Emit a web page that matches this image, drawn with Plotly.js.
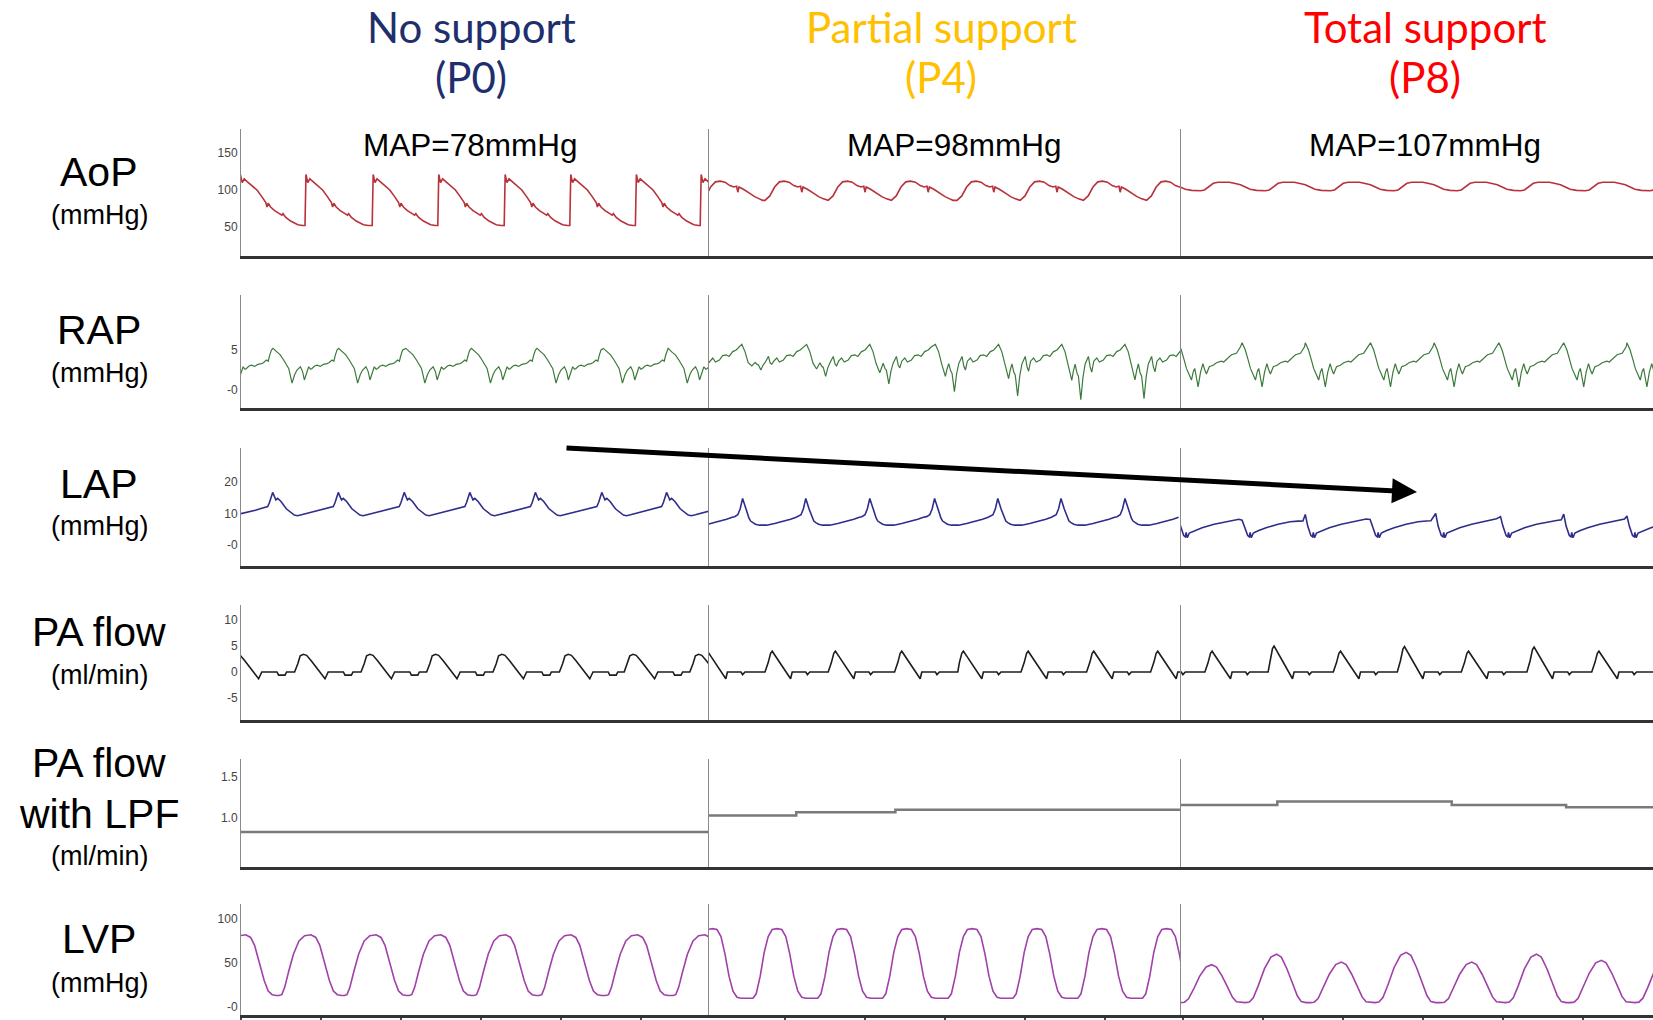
<!DOCTYPE html>
<html>
<head>
<meta charset="utf-8">
<script src="https://cdn.plot.ly/plotly-3.0.1.min.js"></script>
<style>
  html, body { margin: 0; padding: 0; background: #fff; }
  #chart { width: 1653px; height: 1020px; }
</style>
</head>
<body>
<div id="chart"></div>
<script>
// ---------------------------------------------------------------------------
// Labels
// ---------------------------------------------------------------------------
const conditions = ['No support', 'Partial support', 'Total support'];
const conditionCodes = ['(P0)', '(P4)', '(P8)'];
const mapLabels = ['MAP=78mmHg', 'MAP=98mmHg', 'MAP=107mmHg'];
const channelNames = [['AoP'], ['RAP'], ['LAP'], ['PA flow'], ['PA flow', 'with LPF'], ['LVP']];
const channelUnits = ['(mmHg)', '(mmHg)', '(mmHg)', '(ml/min)', '(ml/min)', '(mmHg)'];

const tickValues = [[50, 100, 150], [0, 5], [0, 10, 20], [-5, 0, 5, 10], [1.0, 1.5], [0, 50, 100]];
const tickLabels = [['50', '100', '150'], ['-0', '5'], ['-0', '10', '20'], ['-5', '0', '5', '10'], ['1.0', '1.5'], ['-0', '50', '100']];

// ---------------------------------------------------------------------------
// Recorded waveforms. Time in seconds from the start of each recording.
// Each channel: beat reference times + one beat outline [time in beat, value].
// ---------------------------------------------------------------------------

// Aortic pressure (mmHg) - reference = start of upstroke / start of rise
const aopBeatsP0 = [-0.02, 0.80, 1.64, 2.46, 3.29, 4.11, 4.93, 5.74];
const aopShapeP0 = [[0, 52], [0.012, 121], [0.035, 110], [0.06, 115], [0.1, 111], [0.16, 106], [0.22, 100],
  [0.28, 91], [0.33, 83], [0.345, 77], [0.36, 82], [0.39, 77], [0.44, 72], [0.5, 68], [0.53, 66], [0.545, 68],
  [0.58, 63], [0.64, 58], [0.7, 54], [0.73, 53], [0.79, 52]];
const aopBeatsP4 = [-0.10, 0.70, 1.49, 2.28, 3.10, 3.89, 4.68, 5.47];
const aopShapeP4 = [[0, 86], [0.06, 92], [0.12, 104], [0.18, 111], [0.24, 112], [0.3, 110.5], [0.36, 106],
  [0.41, 104], [0.445, 105], [0.46, 97], [0.475, 104], [0.53, 101], [0.6, 96], [0.67, 91], [0.73, 88], [0.77, 86]];
const aopBeatsP8 = [-0.56, 0.25, 1.06, 1.875, 2.67, 3.46, 4.25, 5.06, 5.87];
const aopShapeP8 = [[0, 99], [0.05, 100], [0.1, 104], [0.16, 109], [0.22, 110.5], [0.3, 110], [0.36, 110.5],
  [0.42, 109], [0.5, 107], [0.56, 104], [0.62, 101], [0.7, 99.5], [0.76, 99]];

// Right atrial pressure (mmHg) - reference = beat peak
const rapBeatsP0 = [-0.42, 0.40, 1.22, 2.06, 2.88, 3.70, 4.53, 5.34];
const rapShapeP0 = [[0, 5.2], [0.05, 4.7], [0.09, 4.4], [0.133, 3.75], [0.17, 3.2], [0.196, 2.7], [0.215, 1.9],
  [0.238, 0.85], [0.27, 1.9], [0.3, 2.5], [0.342, 2.9], [0.37, 2.3], [0.392, 1.25], [0.42, 2.2], [0.446, 2.9],
  [0.47, 2.6], [0.488, 2.7], [0.52, 3.0], [0.55, 3.1], [0.59, 2.95], [0.63, 3.2], [0.675, 3.3], [0.7, 3.4],
  [0.738, 3.75], [0.76, 3.6], [0.78, 4.4], [0.8, 5.0]];
const rapBeatsP4 = [-0.39, 0.41, 1.22, 2.01, 2.83, 3.62, 4.41, 5.20];
const rapShapeP4 = [[0, 5.7], [0.04, 4.8], [0.08, 3.2], [0.125, 1.7], [0.145, 2.6], [0.167, 3.3], [0.19, 2.4],
  [0.208, 2.1], [0.238, -0.2], [0.265, 2.0], [0.292, 3.3], [0.333, 4.2], [0.355, 3.0], [0.375, 2.5], [0.4, 3.6],
  [0.437, 4.0], [0.47, 3.5], [0.52, 3.75], [0.56, 4.3], [0.604, 4.4], [0.64, 4.2], [0.687, 4.8], [0.73, 5.0], [0.77, 5.4]];
const rapDipsP4 = [2.6, 2.5, 1.7, 0.75, -0.2, -0.75, -1.2, -1.1];
const rapBeatsP8 = [-0.03, 0.77, 1.56, 2.375, 3.17, 3.98, 4.79, 5.58];
const rapShapeP8 = [[0, 5.9], [0.04, 5.0], [0.08, 3.6], [0.104, 2.7], [0.135, 2.0], [0.167, 1.25], [0.19, 2.3],
  [0.208, 2.7], [0.23, 1.5], [0.25, 0.4], [0.28, 2.2], [0.31, 3.3], [0.33, 2.6], [0.354, 2.0], [0.39, 2.9],
  [0.4375, 3.1], [0.48, 3.4], [0.54, 3.6], [0.57, 3.5], [0.6, 3.75], [0.667, 4.4], [0.73, 4.6], [0.78, 5.4]];

// Left atrial pressure (mmHg) - reference = beat peak
const lapBeatsP0 = [-0.42, 0.396, 1.216, 2.04, 2.86, 3.68, 4.51, 5.32];
const lapShapeP0 = [[-0.0625, 12.2], [-0.04, 13.5], [0, 16.7], [0.04, 14.3], [0.0625, 14.8], [0.104, 13.8],
  [0.17, 11.5], [0.27, 9.5], [0.31, 9.3], [0.36, 9.6], [0.42, 10.0], [0.48, 10.2], [0.54, 10.6], [0.6, 11.0],
  [0.67, 11.6], [0.72, 12.0]];
const lapBeatsP4 = [-0.38, 0.42, 1.21, 2.01, 2.82, 3.61, 4.40, 5.20];
const lapShapeP4 = [[-0.1, 9.0], [-0.06, 9.6], [-0.03, 11.5], [0, 14.8], [0.04, 11.5], [0.08, 8.5], [0.1, 7.6],
  [0.125, 7.1], [0.16, 6.6], [0.21, 6.3], [0.3, 6.3], [0.4, 6.8], [0.5, 7.4], [0.6, 8.2], [0.67, 8.8]];
const lapBeatsP8 = [-0.03, 0.77, 1.56, 2.37, 3.19, 4.0, 4.79, 5.58];
const lapShapeP8 = [[0, 9.0], [0.03, 6.0], [0.07, 3.0], [0.09, 2.6], [0.1, 4.0], [0.115, 2.3], [0.14, 3.8],
  [0.2, 4.5], [0.3, 5.5], [0.45, 6.6], [0.6, 7.4], [0.7, 7.8], [0.76, 8.0]];
const lapTopsP8 = [9.5, 7.9, 9.7, 8.1, 10.0, 9.0, 9.8, 9.2];

// Pulmonary artery flow - reference = beat peak
const paBeatsP0 = [-0.05, 0.78, 1.61, 2.43, 3.26, 4.09, 4.90, 5.72];
const paShapeP0 = [[-0.11, 0], [-0.07, 1.6], [-0.04, 3.1], [0, 3.4], [0.04, 3.2], [0.1, 2.1], [0.17, 0.8],
  [0.22, -0.3], [0.27, -1.3], [0.29, -0.6], [0.31, 0], [0.5, 0], [0.52, -0.6], [0.6, -0.6], [0.62, 0], [0.7, 0]];
const paBeatsP4 = [-0.02, 0.79, 1.58, 2.41, 3.18, 3.99, 4.81, 5.61];
const paShapeP4 = [[-0.09, 0], [-0.05, 1.8], [-0.02, 3.6], [0, 4.0], [0.04, 3.1], [0.09, 1.9], [0.15, 0.6],
  [0.2, -0.6], [0.23, -1.3], [0.25, 0], [0.42, 0], [0.44, -0.5], [0.47, 0], [0.7, 0]];
const paBeatsP8 = [-0.41, 0.395, 1.17, 2.0, 2.8, 3.6, 4.42, 5.23];
const paShapeP8 = [[-0.09, 0], [-0.05, 1.8], [-0.02, 3.6], [0, 4.0], [0.04, 3.1], [0.09, 1.9], [0.15, 0.6],
  [0.2, -0.6], [0.23, -1.3], [0.25, 0], [0.42, 0], [0.44, -0.5], [0.47, 0], [0.7, 0]];
const paPeaksP8 = [4.0, 4.0, 5.0, 4.0, 4.9, 4.0, 4.8, 4.0];

// Low-pass filtered PA flow: level changes (time, value)
const lpfTimesP0 = [0, 5.95];
const lpfLevelsP0 = [0.83, 0.83];
const lpfTimesP4 = [0, 1.09, 2.33, 5.95];
const lpfLevelsP4 = [1.03, 1.07, 1.10, 1.10];
const lpfTimesP8 = [0, 1.21, 3.39, 4.82, 5.95];
const lpfLevelsP8 = [1.16, 1.20, 1.16, 1.13, 1.13];

// Left ventricular pressure (mmHg) - reference = end-diastolic trough
const lvpBeatsP0 = [-0.34, 0.475, 1.29, 2.10, 2.91, 3.725, 4.56, 5.40];
const lvpShapeP0 = [[0, 13], [0.035, 14], [0.07, 22], [0.12, 40], [0.18, 60], [0.25, 75], [0.32, 81], [0.4, 82],
  [0.46, 79], [0.51, 70], [0.57, 50], [0.63, 30], [0.68, 18], [0.73, 14], [0.78, 13]];
const lvpBeatsP4 = [-0.32, 0.49, 1.30, 2.11, 2.93, 3.74, 4.55, 5.36];
const lvpShapeP4 = [[0, 10], [0.06, 10], [0.1, 15], [0.15, 35], [0.2, 62], [0.25, 80], [0.3, 88], [0.36, 89],
  [0.42, 88], [0.47, 80], [0.52, 60], [0.57, 35], [0.62, 18], [0.67, 11], [0.72, 10]];
const lvpBeatsP8 = [-0.81, 0.0, 0.81, 1.62, 2.43, 3.25, 4.06, 4.87, 5.68];
const lvpShapeP8 = [[0, 5], [0.05, 5.5], [0.1, 10], [0.16, 22], [0.24, 40], [0.32, 52], [0.39, 55], [0.45, 52],
  [0.52, 40], [0.59, 25], [0.65, 12], [0.7, 6], [0.76, 5]];
const lvpPeaksP8 = [50, 48, 60, 51, 62, 51, 60, 53, 55];

// ---------------------------------------------------------------------------
// Build a polyline from beat times and one beat outline
// ---------------------------------------------------------------------------
function buildBeats(onsets, shape, mod) {
  const vals = shape.map(p => p[1]);
  const hi = Math.max(...vals), lo = Math.min(...vals);
  const x = [], y = [];
  onsets.forEach((t0, i) => {
    shape.forEach(([ph, v]) => {
      const t = t0 + ph;
      if (x.length && t <= x[x.length - 1]) return;
      let val = v;
      if (mod && mod.peaks && v > mod.base) val = mod.base + (v - mod.base) * (mod.peaks[i] - mod.base) / (hi - mod.base);
      if (mod && mod.dips && v < mod.base) val = mod.base - (mod.base - v) * (mod.base - mod.dips[i]) / (mod.base - lo);
      x.push(+t.toFixed(4));
      y.push(+val.toFixed(3));
    });
  });
  return { x, y };
}

const series = [
  [buildBeats(aopBeatsP0, aopShapeP0), buildBeats(aopBeatsP4, aopShapeP4), buildBeats(aopBeatsP8, aopShapeP8)],
  [buildBeats(rapBeatsP0, rapShapeP0), buildBeats(rapBeatsP4, rapShapeP4, { base: 3.5, dips: rapDipsP4 }), buildBeats(rapBeatsP8, rapShapeP8)],
  [buildBeats(lapBeatsP0, lapShapeP0), buildBeats(lapBeatsP4, lapShapeP4), buildBeats(lapBeatsP8, lapShapeP8, { base: 7.5, peaks: lapTopsP8 })],
  [buildBeats(paBeatsP0, paShapeP0), buildBeats(paBeatsP4, paShapeP4), buildBeats(paBeatsP8, paShapeP8, { base: 0, peaks: paPeaksP8 })],
  [{ x: lpfTimesP0, y: lpfLevelsP0 }, { x: lpfTimesP4, y: lpfLevelsP4 }, { x: lpfTimesP8, y: lpfLevelsP8 }],
  [buildBeats(lvpBeatsP0, lvpShapeP0), buildBeats(lvpBeatsP4, lvpShapeP4), buildBeats(lvpBeatsP8, lvpShapeP8, { base: 5, peaks: lvpPeaksP8 })]
];

// ---------------------------------------------------------------------------
// Geometry and styling
// ---------------------------------------------------------------------------
const W = 1653, H = 1020;
const px = v => v / W;
const py = v => 1 - v / H;

const colEdges = [241, 709, 1180.5, 1653];
const timeSpan = [5.85, 5.894, 5.906];
const tickStart = [0, -0.05, 0.03];
const rowBands = [[129, 256], [295, 408], [448, 566], [605, 720], [759, 867], [904, 1015]];
const yRanges = [[10.8, 182.4], [-2.25, 11.875], [-6.67, 30.8], [-9.23, 12.88], [0.402, 1.72], [-9.1, 117]];
const lineColors = ['#B8323A', '#3C7A3C', '#2E2E8A', '#1E1E1E', '#7A7A7A', '#A040A8'];
const lineWidths = [1.6, 1.2, 1.6, 1.6, 2.5, 1.6];
const titleColors = ['#1F2F6E', '#FFC000', '#FF0000'];
const titleFont = 'Lato, Noto Sans, sans-serif';

const traces = [];
const layout = {
  width: W, height: H,
  margin: { l: 0, r: 0, t: 0, b: 0 },
  paper_bgcolor: '#fff', plot_bgcolor: 'rgba(0,0,0,0)',
  showlegend: false,
  font: { family: 'Liberation Sans, Arial, sans-serif', color: '#000' },
  annotations: []
};

for (let r = 0; r < 6; r++) {
  for (let c = 0; c < 3; c++) {
    const k = r * 3 + c + 1;
    const xName = k === 1 ? 'x' : 'x' + k;
    const yName = k === 1 ? 'y' : 'y' + k;
    const s = series[r][c];
    traces.push({
      type: 'scatter', mode: 'lines',
      x: s.x, y: s.y, xaxis: xName, yaxis: yName,
      line: { color: lineColors[r], width: lineWidths[r], shape: r === 4 ? 'hv' : 'linear' },
      hoverinfo: 'skip'
    });
    const bottom = r === 5;
    layout[k === 1 ? 'xaxis' : 'xaxis' + k] = {
      domain: [px(colEdges[c]), px(colEdges[c + 1])],
      anchor: yName, range: [0, timeSpan[c]],
      showline: true, linecolor: '#333', linewidth: 3,
      showgrid: false, zeroline: false, showticklabels: false,
      ticks: bottom ? 'outside' : '', ticklen: 6, tickwidth: 1.5, tickcolor: '#444',
      tick0: tickStart[c], dtick: 1, fixedrange: true
    };
    layout[k === 1 ? 'yaxis' : 'yaxis' + k] = {
      domain: [py(rowBands[r][1]), py(rowBands[r][0])],
      anchor: xName, range: yRanges[r],
      showline: true, linecolor: '#8a8a8a', linewidth: 1,
      showgrid: false, zeroline: false, ticks: '',
      tickmode: 'array', tickvals: tickValues[r], ticktext: tickLabels[r],
      showticklabels: c === 0,
      tickfont: { family: 'Liberation Sans Narrow, Arial Narrow, sans-serif', size: 12, color: '#444' },
      fixedrange: true
    };
  }
}

// Condition headings (two lines each)
const headingX = [471, 941, 1425];
conditions.forEach((name, i) => {
  layout.annotations.push({
    xref: 'paper', yref: 'paper', x: px(headingX[i]), y: py(26.5), xanchor: 'center', yanchor: 'middle',
    text: name, showarrow: false,
    font: { family: titleFont, size: 42, color: titleColors[i] }
  });
  layout.annotations.push({
    xref: 'paper', yref: 'paper', x: px(headingX[i]), y: py(77), xanchor: 'center', yanchor: 'middle',
    text: conditionCodes[i], showarrow: false,
    font: { family: titleFont, size: 42, color: titleColors[i] }
  });
});

// Mean arterial pressure labels
const mapX = [470, 954, 1425];
mapLabels.forEach((t, i) => {
  layout.annotations.push({
    xref: 'paper', yref: 'paper', x: px(mapX[i]), y: py(145), xanchor: 'center', yanchor: 'middle',
    text: t, showarrow: false,
    font: { family: 'Liberation Sans, Arial, sans-serif', size: 31.5, color: '#000' }
  });
});

// Channel names and units
const nameY = [[172], [330], [484], [632], [763, 814], [939]];
const unitY = [215, 373, 526, 675, 856, 983];
channelNames.forEach((lines, r) => {
  lines.forEach((t, j) => {
    layout.annotations.push({
      xref: 'paper', yref: 'paper', x: px(99), y: py(nameY[r][j]), xanchor: 'center', yanchor: 'middle',
      text: t, showarrow: false,
      font: { family: 'Liberation Sans, Arial, sans-serif', size: 41, color: '#000' }
    });
  });
  layout.annotations.push({
    xref: 'paper', yref: 'paper', x: px(99), y: py(unitY[r]), xanchor: 'center', yanchor: 'middle',
    text: channelUnits[r], showarrow: false,
    font: { family: 'Liberation Sans, Arial, sans-serif', size: 27, color: '#000' }
  });
});

// Trend arrow across the LAP strip
layout.annotations.push({
  xref: 'paper', yref: 'paper', x: px(1417), y: py(492),
  axref: 'pixel', ayref: 'pixel', ax: 565 - 1417, ay: 448 - 492,
  text: '', showarrow: true, arrowhead: 2, arrowsize: 1, arrowwidth: 5, arrowcolor: '#000', standoff: 0
});

Plotly.newPlot('chart', traces, layout, { displayModeBar: false, staticPlot: true });
</script>
</body>
</html>
